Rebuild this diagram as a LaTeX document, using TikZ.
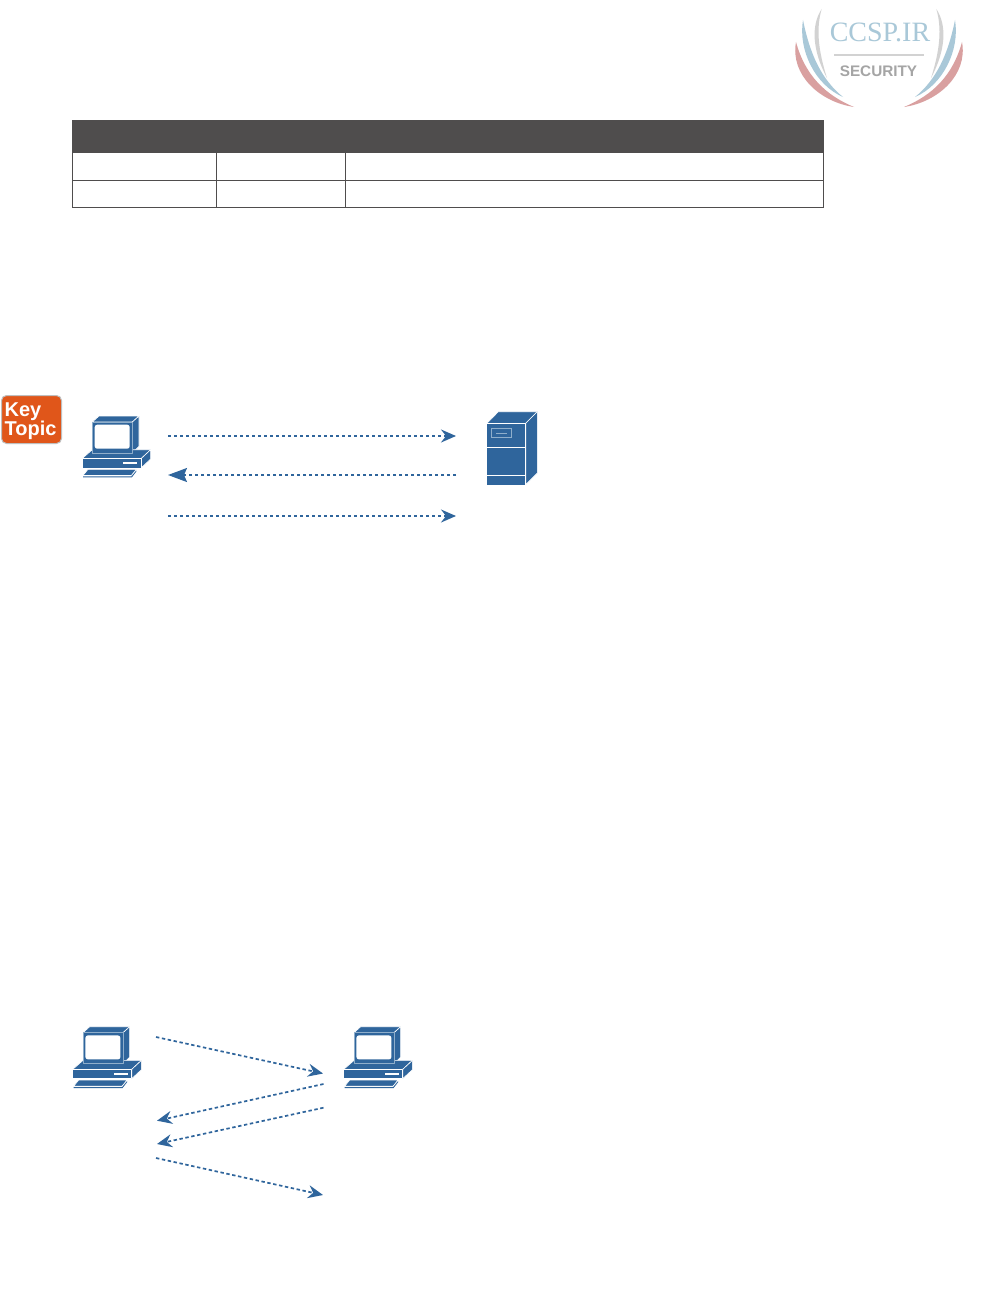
\documentclass[tikz,border=0pt]{standalone}
\usepackage{fontspec}
\setmainfont{Liberation Sans}
\newfontfamily\logoserif{Liberation Serif}
\usetikzlibrary{arrows.meta}
\definecolor{netblue}{HTML}{2F659C}
\definecolor{edgeblue}{HTML}{8FAECB}
\definecolor{tabledark}{HTML}{4F4D4D}
\definecolor{keyorange}{HTML}{E0561A}
\definecolor{logoblue}{HTML}{A9C8D8}
\definecolor{logored}{HTML}{D9A0A0}
\definecolor{logogray}{HTML}{D2D2D2}
\definecolor{logotext}{HTML}{A5A5A5}
\tikzset{
  x=1pt,y=-1pt,
  flow/.style={draw=netblue,line width=1.7pt,dash pattern=on 3.4pt off 2.6pt,
    -{Stealth[length=15pt,width=13pt,inset=5pt,fill=netblue]}},
  flowbig/.style={draw=netblue,line width=1.7pt,dash pattern=on 3.4pt off 2.6pt,
    -{Stealth[length=19pt,width=14pt,inset=3pt,fill=netblue]}},
  gridline/.style={draw=tabledark,line width=1pt},
  solidpart/.style={fill=netblue,draw=white,line width=.6pt,line join=round},
  softpart/.style={fill=netblue,draw=edgeblue,line width=.8pt,line join=round},
  pics/computer/.style={code={
    % monitor
    \path[solidpart] (10.3,6)--(17,0)--(57,0)--(50.3,6)--cycle;
    \path[solidpart] (50.3,6)--(57,0)--(57,30.3)--(50.3,37)--cycle;
    % base
    \path[solidpart] (0,42.7)--(10.3,33.7)--(68.7,33.7)--(59,42.7)--cycle;
    \path[solidpart] (59,42.7)--(68.7,33.7)--(68.7,43)--(59,52)--cycle;
    \path[solidpart] (0,42.7) rectangle (59,52);
    \path[softpart] (10.3,6) rectangle (50.3,37);
    \path[fill=white,rounded corners=2.5pt] (12.7,8.7) rectangle (47.7,32.7);
    \path[fill=white] (41,46.3) rectangle (55.3,48);
    % keyboard
    \path[solidpart] (1,59.5)--(6,53.3)--(54.3,53.3)--(49.3,59.5)--cycle;
    \path[fill=netblue] (1,60.4)--(49.4,60.4)--(54.3,54.5)--(54.3,55.6)--(49.8,61.4)--(1,61.4)--cycle;
  }},
}
\begin{document}
\begin{tikzpicture}
\useasboundingbox (0,0) rectangle (991,1314);
\fill[white] (0,0) rectangle (991,1314);

% logo
\fill[logogray] (821.7,9) .. controls (811,25) and (812,50) .. (827,78)
  .. controls (818,50) and (816,28) .. cycle;
\fill[logogray] (936.3,9) .. controls (947,25) and (946,50) .. (931,78)
  .. controls (940,50) and (942,28) .. cycle;
\fill[logoblue] (803,20) .. controls (798,50) and (815,85) .. (843,97)
  .. controls (822,80) and (810,55) .. cycle;
\fill[logoblue] (955,20) .. controls (960,50) and (943,85) .. (915,97)
  .. controls (936,80) and (948,55) .. cycle;
\fill[logored] (796,42) .. controls (790,75) and (820,102) .. (854,107)
  .. controls (825,95) and (805,75) .. cycle;
\fill[logored] (962,42) .. controls (968,75) and (938,102) .. (904,107)
  .. controls (933,95) and (953,75) .. cycle;
\node[text=logoblue,font=\logoserif\fontsize{28}{28}\selectfont,anchor=center] (logotitle) at (880,32) {CCSP.IR};
\fill[logogray] (834,54) rectangle (924,56.5);
\node[text=logotext,font=\bfseries\fontsize{15.3}{15}\selectfont,anchor=center] (logosub) at (878.5,71) {SECURITY};

% table
\fill[tabledark] (72,120) rectangle (824,153);
\draw[gridline] (72.5,153) -- (72.5,207.5) -- (823.5,207.5) -- (823.5,153);
\draw[gridline] (72.5,180.5) -- (823.5,180.5);
\draw[gridline] (216.5,153) -- (216.5,207.5);
\draw[gridline] (345.5,153) -- (345.5,207.5);

% key topic badge
\node[draw=black!25,line width=1pt,fill=keyorange,rounded corners=5pt,minimum width=60pt,minimum height=48pt,inner sep=0pt,anchor=center] (keytopic) at (31.5,419.5) {};
\node[text=white,font=\bfseries\fontsize{20}{19}\selectfont,align=left,anchor=center,inner sep=0pt] (keytext) at (30.5,421) {Key\\Topic};

% devices
\pic at (82,416) {computer};
\pic at (72.7,1026.7) {computer};
\pic at (343.7,1026.7) {computer};

% server
\path[solidpart] (487,423.3)--(498.3,411.7)--(537.3,411.7)--(525.7,423.3)--cycle;
\path[solidpart] (525.7,423.3)--(537.3,411.7)--(537.3,473)--(525.7,484.7)--cycle;
\fill[netblue] (487,423.3) rectangle (525.7,484.7);
\draw[white,line width=.8pt] (487,423.3) -- (525.7,423.3) -- (525.7,484.7);
\draw[white,line width=.8pt] (487,447.3) -- (525.7,447.3);
\draw[white,line width=.8pt] (487,475.3) -- (525.7,475.3);
\draw[edgeblue,line width=.9pt] (491.7,428.7) rectangle (511.7,437.3);
\draw[edgeblue,line width=.9pt] (496,433) -- (506.7,433);

% connector ends
\coordinate (a1s) at (168,436); \coordinate (a1e) at (456,436);
\coordinate (a2s) at (456,475); \coordinate (a2e) at (168,475);
\coordinate (a3s) at (168,516); \coordinate (a3e) at (456,516);
\coordinate (b1s) at (156,1037); \coordinate (b1e) at (323,1073.5);
\coordinate (b2s) at (323.5,1084); \coordinate (b2e) at (157,1120.7);
\coordinate (b3s) at (323.5,1107.7); \coordinate (b3e) at (157,1144);
\coordinate (b4s) at (156,1158); \coordinate (b4e) at (323,1195);

\draw[flow] (a1s) -- (a1e);
\draw[flowbig] (a2s) -- (a2e);
\draw[flow] (a3s) -- (a3e);
\draw[flow] (b1s) -- (b1e);
\draw[flow] (b2s) -- (b2e);
\draw[flow] (b3s) -- (b3e);
\draw[flow] (b4s) -- (b4e);
\end{tikzpicture}
\end{document}
